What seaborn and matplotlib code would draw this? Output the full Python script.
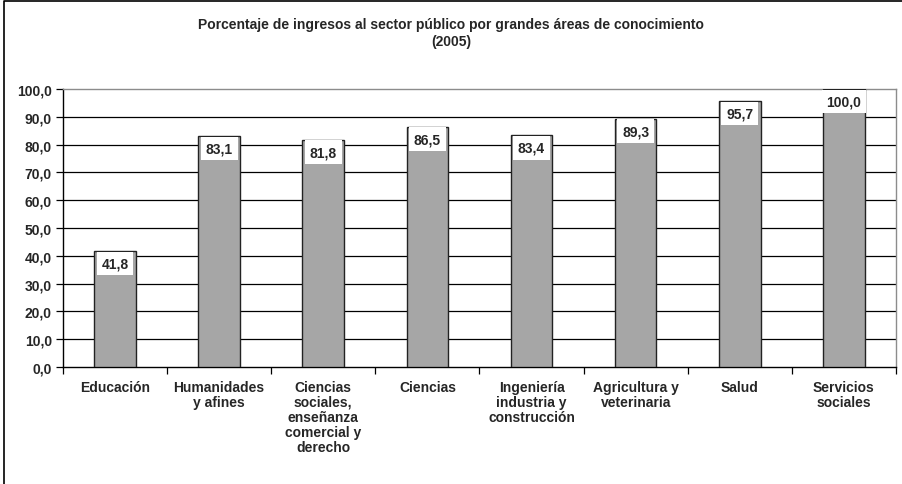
import matplotlib
matplotlib.use("Agg")
import matplotlib.pyplot as plt
import seaborn as sns
import pandas as pd
from matplotlib.lines import Line2D
from matplotlib.ticker import FixedLocator

areas = [
    "Educación",
    "Humanidades\ny afines",
    "Ciencias\nsociales,\nenseñanza\ncomercial y\nderecho",
    "Ciencias",
    "Ingeniería\nindustria y\nconstrucción",
    "Agricultura y\nveterinaria",
    "Salud",
    "Servicios\nsociales",
]
porcentajes = [41.8, 83.1, 81.8, 86.5, 83.4, 89.3, 95.7, 100.0]
yticks = [0, 10, 20, 30, 40, 50, 60, 70, 80, 90, 100]

titulo = "Porcentaje de ingresos al sector público por grandes áreas de conocimiento\n(2005)"

sns.set_style("white")
plt.rcParams["font.family"] = ["Liberation Sans", "DejaVu Sans"]
plt.rcParams["font.weight"] = "bold"

df = pd.DataFrame({"area": areas, "pct": porcentajes})

fig = plt.figure(figsize=(9.02, 4.85), dpi=100)
ax = fig.add_axes([0.0698, 0.241, 0.9235, 0.5734])

sns.barplot(data=df, x="area", y="pct", color="#A6A6A6", saturation=1,
            width=0.4, edgecolor="#222222", linewidth=1.0, ax=ax, zorder=3)

ax.set_ylim(0, 100)
ax.set_xlim(-0.5, len(areas) - 0.5)
ax.set_yticks(yticks)
ax.set_yticklabels([f"{v:.1f}".replace(".", ",") for v in yticks],
                   fontsize=10, fontweight="bold")
# horizontal gridlines below the top frame
for v in yticks[1:-1]:
    ax.axhline(v, color="black", linewidth=0.9, zorder=1)

ax.set_xticks(range(len(areas)))
ax.set_xticklabels(areas, fontsize=10, fontweight="bold", linespacing=1.1,
                   va="top")
ax.tick_params(axis="x", which="major", length=0, pad=9)
ax.xaxis.set_minor_locator(FixedLocator([i - 0.5 for i in range(len(areas) + 1)]))
ax.tick_params(axis="x", which="minor", length=5, width=0.9, color="black",
               direction="out", bottom=True)
ax.tick_params(axis="y", length=5, width=0.9, color="black", direction="out",
               left=True, pad=3)

ax.set_xlabel("")
ax.set_ylabel("")
ax.spines["left"].set_color("black")
ax.spines["bottom"].set_color("black")
ax.spines["right"].set_color("#8c8c8c")
ax.spines["top"].set_color("#8c8c8c")
for s in ax.spines.values():
    s.set_linewidth(1.0)

for i, v in enumerate(porcentajes):
    ax.annotate(f"{v:.1f}".replace(".", ","), xy=(i, v), xytext=(0, -9),
                textcoords="offset points", ha="center", va="center",
                fontsize=10, fontweight="bold", zorder=5,
                bbox=dict(boxstyle="square,pad=0.35", facecolor="white",
                          edgecolor="none"))

fig.text(0.5, 0.931, titulo, ha="center", va="center", fontsize=10,
         fontweight="bold", linespacing=1.3)

# chart frame: left and top edges
fig.lines.append(Line2D([0.004, 0.004, 1.0], [0.0, 0.996, 0.996],
                        transform=fig.transFigure, color="black", linewidth=1.2))

fig.savefig("out.png", dpi=100)
